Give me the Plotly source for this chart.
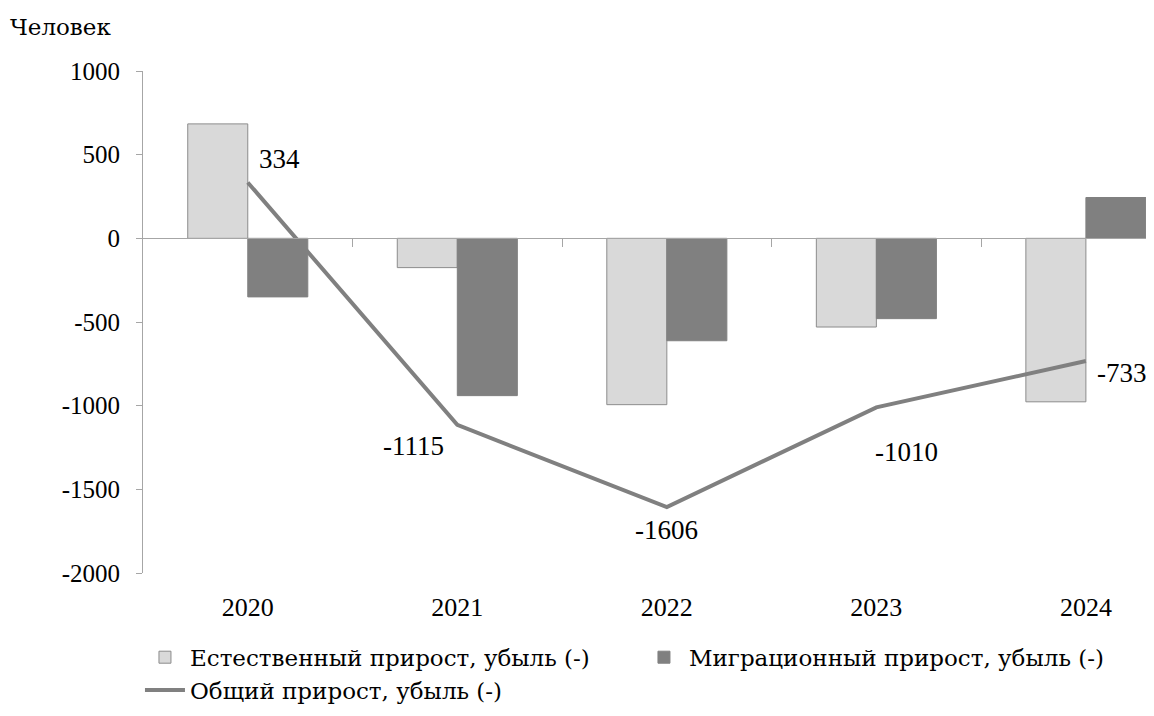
import plotly.graph_objects as go

years = ["2020", "2021", "2022", "2023", "2024"]
natural = [684, -175, -994, -530, -977]
migration = [-350, -940, -612, -480, 244]
total = [334, -1115, -1606, -1010, -733]
y_ticks = [1000, 500, 0, -500, -1000, -1500, -2000]
y_tick_text = ["1000", "500", "0", "-500", "-1000", "-1500", "-2000"]

name_nat = "Естественный прирост, убыль (-)"
name_mig = "Миграционный прирост, убыль (-)"
name_tot = "Общий прирост, убыль (-)"

FONT = "Liberation Serif"
CYR = "DejaVu Serif"
xs = list(range(len(years)))

fig = go.Figure()
fig.add_trace(go.Bar(x=xs, y=natural, name=name_nat,
                     marker=dict(color="#D9D9D9", line=dict(color="#8C8C8C", width=1))))
fig.add_trace(go.Bar(x=xs, y=migration, name=name_mig,
                     marker=dict(color="#808080", line=dict(color="#808080", width=1))))
fig.add_trace(go.Scatter(x=xs, y=total, name=name_tot, mode="lines",
                         line=dict(color="#808080", width=4)))
fig.add_trace(go.Scatter(x=xs, y=[None]*len(xs), xaxis="x2", showlegend=False,
                         hoverinfo="skip"))

offsets = [(32, 23), (-44, -21), (0, -23), (30, -45), (36, -12)]
for i, v in enumerate(total):
    dx, dy = offsets[i]
    fig.add_annotation(x=xs[i], y=v, text=str(v), showarrow=False,
                       xshift=dx, yshift=dy,
                       font=dict(family=FONT, size=27, color="black"))

fig.add_annotation(x=0, y=1, xref="paper", yref="paper", xanchor="left", yanchor="middle",
                   xshift=-135, yshift=44, text="Человек", showarrow=False,
                   font=dict(family=CYR, size=23, color="black"))

xr = [-0.5, 4.325]
fig.update_layout(
    width=1146, height=708, autosize=False,
    margin=dict(l=135, r=0, t=63, b=143),
    paper_bgcolor="white", plot_bgcolor="white",
    barmode="group", bargap=0.427, bargroupgap=0,
    font=dict(family=FONT, size=25, color="black"),
    xaxis=dict(range=xr, tickvals=xs, ticktext=years, showline=False, ticks="",
               showgrid=False, zeroline=False, ticklabelstandoff=16,
               tickfont=dict(family=FONT, size=26, color="black")),
    xaxis2=dict(range=xr, overlaying="x", anchor="free", position=2/3,
                showline=True, linecolor="#A6A6A6", linewidth=1,
                ticks="outside", ticklen=8, tickcolor="#A6A6A6",
                tickvals=[0.5, 1.5, 2.5, 3.5], showticklabels=False,
                showgrid=False, zeroline=False),
    yaxis=dict(range=[-2000, 1000], tickvals=y_ticks, ticktext=y_tick_text,
               showgrid=False, zeroline=False,
               showline=True, linecolor="#A6A6A6", linewidth=1,
               ticks="outside", ticklen=6, tickcolor="#A6A6A6",
               ticklabelstandoff=11, tickfont=dict(family=FONT, size=25, color="black")),
    legend=dict(orientation="h", x=-0.003, xanchor="left", y=-0.125, yanchor="top",
                font=dict(family=CYR, size=23, color="black"), tracegroupgap=0,
                entrywidth=444, entrywidthmode="pixels",
                itemwidth=40, traceorder="normal"),
    showlegend=True,
)
fig.write_html("out.html")
